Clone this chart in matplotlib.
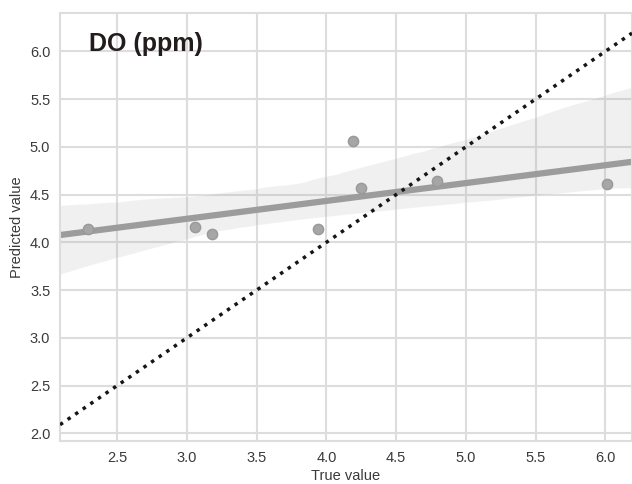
import numpy as np
import matplotlib
matplotlib.use("Agg")
import matplotlib.pyplot as plt
import seaborn as sns

sns.set_style("whitegrid")
plt.rcParams['font.family'] = ['Liberation Sans', 'DejaVu Sans']

true_vals = [2.29, 3.06, 3.18, 3.94, 4.19, 4.25, 4.79, 6.01]
pred_vals = [4.14, 4.16, 4.09, 4.14, 5.06, 4.57, 4.64, 4.61]
title = "DO (ppm)"

fig = plt.figure(figsize=(6.32, 4.84), dpi=100)
ax = fig.add_axes([0.095, 0.089, 0.905, 0.884])

xlim = (2.09, 6.19)
ylim = (1.92, 6.40)
ax.plot(xlim, xlim, ls=":", color="#1a1414", lw=2.5, zorder=3)
sns.regplot(x=np.array(true_vals), y=np.array(pred_vals), ax=ax, color="#9c9c9c",
            truncate=False, seed=3,
            scatter_kws={"s": 55, "alpha": 1, "zorder": 4, "color": "#a6a6a6",
                         "edgecolor": "#999999", "linewidths": 1},
            line_kws={"lw": 4.5, "zorder": 2})

ax.set_xlim(xlim)
ax.set_ylim(ylim)
ax.set_xticks(np.arange(2.5, 6.01, 0.5))
ax.set_yticks(np.arange(2.0, 6.01, 0.5))
ax.tick_params(labelsize=10.5, colors="#3a3a3a")
ax.set_xlabel("True value", fontsize=10.5, color="#3a3a3a", labelpad=3)
ax.set_ylabel("Predicted value", fontsize=10.5, color="#3a3a3a", labelpad=4)
ax.text(0.05, 0.955, title, transform=ax.transAxes, fontsize=18, fontweight="bold",
        va="top", ha="left", color="#221c1c")
for s in ax.spines.values():
    s.set_color("#dddddd")
    s.set_linewidth(1.5)
ax.grid(color="#dddddd", lw=1.5)

fig.savefig("out.png", dpi=100)
